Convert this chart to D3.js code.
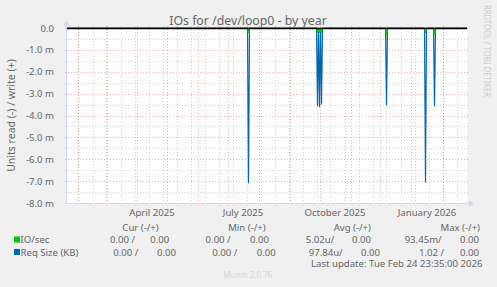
<!DOCTYPE html>
<html>
<head>
<meta charset="utf-8">
<script src="https://cdn.jsdelivr.net/npm/d3@7"></script>
<style>
  body { margin: 0; background: #f0f0f0; }
  text { font-family: "Noto Sans", sans-serif; fill: #666; white-space: pre; }
</style>
</head>
<body>
<svg id="chart" width="497" height="287"></svg>
<script>
// Data (values in milli units, read side drawn negative)
const spikeDates  = ["2025-07-22", "2025-09-29", "2025-10-01", "2025-10-03", "2025-12-07", "2026-01-15", "2026-01-24"];
const reqSizeRead = [7.10, 3.58, 3.62, 3.50, 3.53, 7.07, 3.58];
const ioRead      = [0.23, 0.23, 0.22, 0.22, 0.35, 0.23, 0.30];

const yTicks      = [0, -1, -2, -3, -4, -5, -6, -7, -8];
const yTickLabels = ["0.0", "-1.0 m", "-2.0 m", "-3.0 m", "-4.0 m", "-5.0 m", "-6.0 m", "-7.0 m", "-8.0 m"];
const xLabelDates = ["2025-04-01", "2025-07-01", "2025-10-01", "2026-01-01"];
const xLabels     = ["April 2025", "July 2025", "October 2025", "January 2026"];

const legendHeads  = ["Cur (-/+)", "Min (-/+)", "Avg (-/+)", "Max (-/+)"];
const seriesNames  = ["IO/sec", "Req Size (KB)"];
const seriesColors = ["#00cc00", "#0066b3"];
const readStats    = [["0.00 ", "0.00 ", "5.02u", "93.45m"], ["0.00 ", "0.00 ", "97.84u", "1.02 "]];
const writeStats   = [["0.00", "0.00", "0.00", "0.00"], ["0.00", "0.00", "0.00", "0.00"]];

// Layout
const svg = d3.select("#chart");
const plot = {left: 67, right: 467, top: 28, bottom: 203};
const parse = d3.timeParse("%Y-%m-%d");
const start = new Date(2025, 0, 21, 12), end = d3.timeDay.offset(start, 400);

const x = d3.scaleTime().domain([start, end]).range([plot.left, plot.right]);
const y = d3.scaleLinear().domain([-8, 0]).range([plot.bottom, plot.top]);

// canvas
svg.append("rect")
  .attr("x", plot.left).attr("y", plot.top)
  .attr("width", plot.right - plot.left).attr("height", plot.bottom - plot.top)
  .attr("fill", "#fff");

const minorCol = "rgba(150,150,150,0.45)", majorCol = "rgba(222,79,79,0.45)";

// horizontal grid
const g = svg.append("g");
d3.range(-8, 0.01, 0.5).forEach(v => {
  const major = Number.isInteger(v);
  g.append("line")
    .attr("x1", plot.left - 2).attr("x2", plot.right + 2)
    .attr("y1", Math.round(y(v)) + 0.5).attr("y2", Math.round(y(v)) + 0.5)
    .attr("stroke", major ? majorCol : minorCol)
    .attr("stroke-dasharray", "1,2");
});

// vertical grid: minor every two weeks, major every month
d3.timeDay.range(new Date(2025, 1, 2), end, 14).forEach(d => {
  g.append("line")
    .attr("x1", Math.round(x(d)) + 0.5).attr("x2", Math.round(x(d)) + 0.5)
    .attr("y1", plot.top - 2).attr("y2", plot.bottom + 2)
    .attr("stroke", minorCol).attr("stroke-dasharray", "1,2");
});
d3.timeMonth.range(start, end).forEach(d => {
  g.append("line")
    .attr("x1", Math.round(x(d)) + 0.5).attr("x2", Math.round(x(d)) + 0.5)
    .attr("y1", plot.top - 2).attr("y2", plot.bottom + 2)
    .attr("stroke", majorCol).attr("stroke-dasharray", "1,2");
});

// axes lines + arrows
const axisCol = "#cfd6f8";
svg.append("line").attr("x1", plot.left).attr("x2", plot.right + 3)
  .attr("y1", plot.bottom + 0.5).attr("y2", plot.bottom + 0.5).attr("stroke", axisCol);
svg.append("path")
  .attr("d", `M${plot.right + 2},${plot.bottom - 3}L${plot.right + 7},${plot.bottom + 0.5}L${plot.right + 2},${plot.bottom + 4}Z`)
  .attr("fill", axisCol);
svg.append("line").attr("x1", plot.left - 0.5).attr("x2", plot.left - 0.5)
  .attr("y1", plot.bottom).attr("y2", plot.top - 3).attr("stroke", axisCol);
svg.append("path")
  .attr("d", `M${plot.left - 4},${plot.top - 2}L${plot.left - 0.5},${plot.top - 7}L${plot.left + 3},${plot.top - 2}Z`)
  .attr("fill", axisCol);

// series lines
function seriesPoints(vals) {
  const pts = [[start, 0]];
  spikeDates.forEach((s, i) => {
    const d = parse(s);
    pts.push([d3.timeDay.offset(d, -1), 0], [d, -vals[i]], [d3.timeDay.offset(d, 1), 0]);
  });
  pts.push([end, 0]);
  return pts;
}
const line = d3.line().x(d => x(d[0])).y(d => y(d[1]));

svg.append("path").datum(seriesPoints(reqSizeRead))
  .attr("d", line).attr("fill", "none")
  .attr("stroke", seriesColors[1]).attr("stroke-width", 1.2);
svg.append("path").datum(seriesPoints(ioRead))
  .attr("d", line).attr("fill", "none")
  .attr("stroke", seriesColors[0]).attr("stroke-width", 1.2);

// zero line
svg.append("line").attr("x1", plot.left).attr("x2", plot.right)
  .attr("y1", y(0) + 0.5).attr("y2", y(0) + 0.5)
  .attr("stroke", "#000").attr("stroke-width", 1.6);

// y tick labels
yTicks.forEach((v, i) => {
  svg.append("text")
    .attr("x", 54).attr("y", y(v) + 3.5)
    .attr("text-anchor", "end").style("font-size", "9.6px")
    .text(yTickLabels[i]);
});

// x labels (centred half a month after the month start)
xLabelDates.forEach((s, i) => {
  svg.append("text")
    .attr("x", x(d3.timeHour.offset(parse(s), 372))).attr("y", 216)
    .attr("text-anchor", "middle").style("font-size", "9.6px")
    .text(xLabels[i]);
});

// title
svg.append("text")
  .attr("x", 248).attr("y", 25)
  .attr("text-anchor", "middle").style("font-size", "12.3px")
  .text("IOs for /dev/loop0 - by year");

// y axis title
svg.append("text")
  .attr("transform", `translate(15,${(plot.top + plot.bottom) / 2}) rotate(-90)`)
  .attr("text-anchor", "middle").style("font-size", "10.5px")
  .text("Units read (-) / write (+)");

// watermark
svg.append("text")
  .attr("transform", "translate(483.5,51) rotate(90)")
  .attr("text-anchor", "middle").style("font-size", "9.5px")
  .attr("textLength", 92).attr("lengthAdjust", "spacingAndGlyphs")
  .style("fill", "#cfcfcf")
  .text("RRDTOOL / TOBI OETIKER");

// legend
const headEnd = [158.7, 265.7, 371, 480];
const readEnd = [[135, 230.7, 334.3, 441.7], [138.3, 237.3, 342.7, 444]];
const writeEnd = [[169.3, 269, 371, 479], [176, 275.7, 380, 479]];
const rowY = [243, 255.5];

legendHeads.forEach((h, i) => {
  svg.append("text").attr("x", headEnd[i]).attr("y", 231)
    .attr("text-anchor", "end").style("font-size", "9.6px").text(h);
});

seriesNames.forEach((name, r) => {
  svg.append("rect")
    .attr("x", 14).attr("y", rowY[r] - 6.5).attr("width", 6).attr("height", 6)
    .attr("fill", seriesColors[r]);
  svg.append("text").attr("x", 20.5).attr("y", rowY[r])
    .style("font-size", "9.6px").text(name);
  readStats[r].forEach((v, c) => {
    svg.append("text").attr("x", readEnd[r][c]).attr("y", rowY[r])
      .attr("text-anchor", "end").style("font-size", "9.6px").text(v + "/");
    svg.append("text").attr("x", writeEnd[r][c]).attr("y", rowY[r])
      .attr("text-anchor", "end").style("font-size", "9.6px").text(writeStats[r][c]);
  });
});

svg.append("text").attr("x", 482.5).attr("y", 267.3)
  .attr("text-anchor", "end").style("font-size", "9.6px")
  .text("Last update: Tue Feb 24 23:35:00 2026");

svg.append("text").attr("x", 248).attr("y", 277.5)
  .attr("text-anchor", "middle").style("font-size", "8px")
  .style("fill", "#d4d4d4")
  .text("Munin 2.0.76");
</script>
</body>
</html>
